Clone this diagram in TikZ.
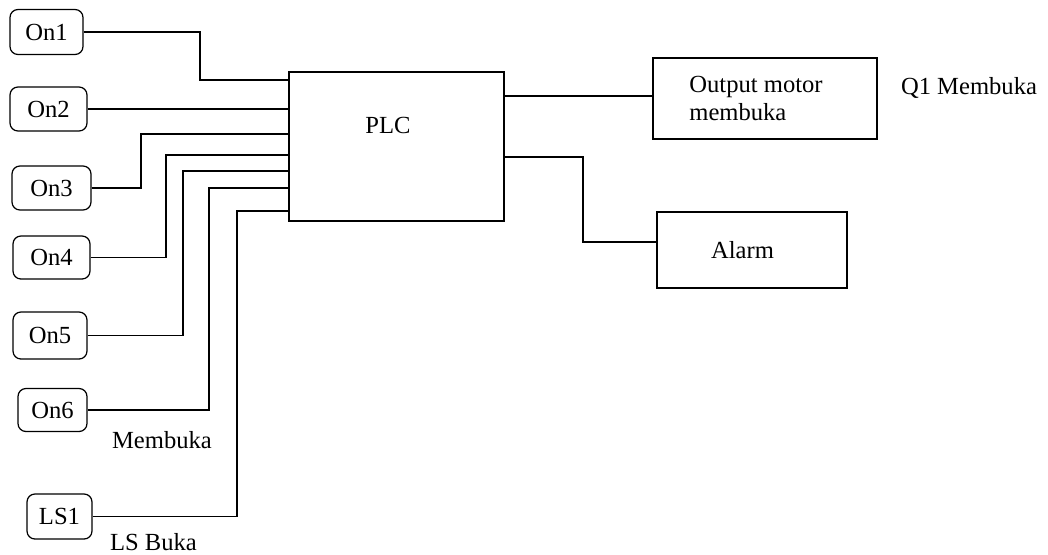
\documentclass[tikz,border=0pt]{standalone}
\usepackage{fontspec}
\setmainfont{Liberation Serif}
\usetikzlibrary{positioning}
\tikzset{
    inbox/.style={draw, rounded corners=4.5pt, line width=0.7pt, inner sep=0pt},
    plainbox/.style={draw, line width=0.7pt, inner sep=0pt},
    plcwire/.style={line width=0.7pt},
    plctext/.style={font=\fontsize{14}{15.5}\selectfont}
}
\begin{document}
\begin{tikzpicture}[every node/.style={plctext}]
\useasboundingbox (0,0) rectangle (20.96,-11.08);
% inputs
\node[inbox, minimum width=1.46cm, minimum height=0.9cm] (on1) at (0.93,-0.64) {On1};
\node[inbox, minimum width=1.54cm, minimum height=0.88cm] (on2) at (0.97,-2.18) {On2};
\node[inbox, minimum width=1.58cm, minimum height=0.88cm] (on3) at (1.03,-3.76) {On3};
\node[inbox, minimum width=1.54cm, minimum height=0.86cm] (on4) at (1.03,-5.15) {On4};
\node[inbox, minimum width=1.48cm, minimum height=0.94cm] (on5) at (1.00,-6.71) {On5};
\node[inbox, minimum width=1.38cm, minimum height=0.86cm] (on6) at (1.05,-8.20) {On6};
\node[inbox, minimum width=1.30cm, minimum height=0.90cm] (ls1) at (1.19,-10.33) {LS1};
\node (membuka) at (3.24,-8.80) {Membuka};
\node (lsbuka) at (3.07,-10.84) {LS Buka};
% PLC and outputs
\node[plainbox, minimum width=4.3cm, minimum height=2.98cm,
    label={[xshift=-0.17cm, yshift=0.43cm]center:PLC}] (plc) at (7.93,-2.93) {};
\node[plainbox, minimum width=4.48cm, minimum height=1.62cm,
    label={[xshift=-0.18cm, align=left]center:Output motor\\membuka}] (motor) at (15.30,-1.97) {};
\node[plainbox, minimum width=3.8cm, minimum height=1.52cm,
    label={[xshift=-0.19cm]center:Alarm}] (alarm) at (15.04,-5.00) {};
\node (q1) at (19.38,-1.76) {Q1 Membuka};
% bend points
\coordinate (k1) at (4.00,-1.60);
\coordinate (k3) at (2.82,-2.68);
\coordinate (k4) at (3.32,-3.10);
\coordinate (k5) at (3.66,-3.42);
\coordinate (k6) at (4.18,-3.76);
\coordinate (k7) at (4.74,-4.22);
\coordinate (ka) at (11.66,-3.14);
\draw[plcwire] (on1.east) -| (k1) -- (plc.west |- k1);
\draw[plcwire] (on2.east) -- (plc.west |- on2.east);
\draw[plcwire] (on3.east) -| (k3) -- (plc.west |- k3);
\draw[plcwire] (on4.east) -| (k4) -- (plc.west |- k4);
\draw[plcwire] (on5.east) -| (k5) -- (plc.west |- k5);
\draw[plcwire] (on6.east) -| (k6) -- (plc.west |- k6);
\draw[plcwire] (ls1.east) -| (k7) -- (plc.west |- k7);
\draw[plcwire] ([yshift=0.05cm]motor.west -| plc.east) -- ([yshift=0.05cm]motor.west);
\draw[plcwire] (plc.east |- ka) -- (ka) |- ([yshift=0.16cm]alarm.west);
\end{tikzpicture}
\end{document}
